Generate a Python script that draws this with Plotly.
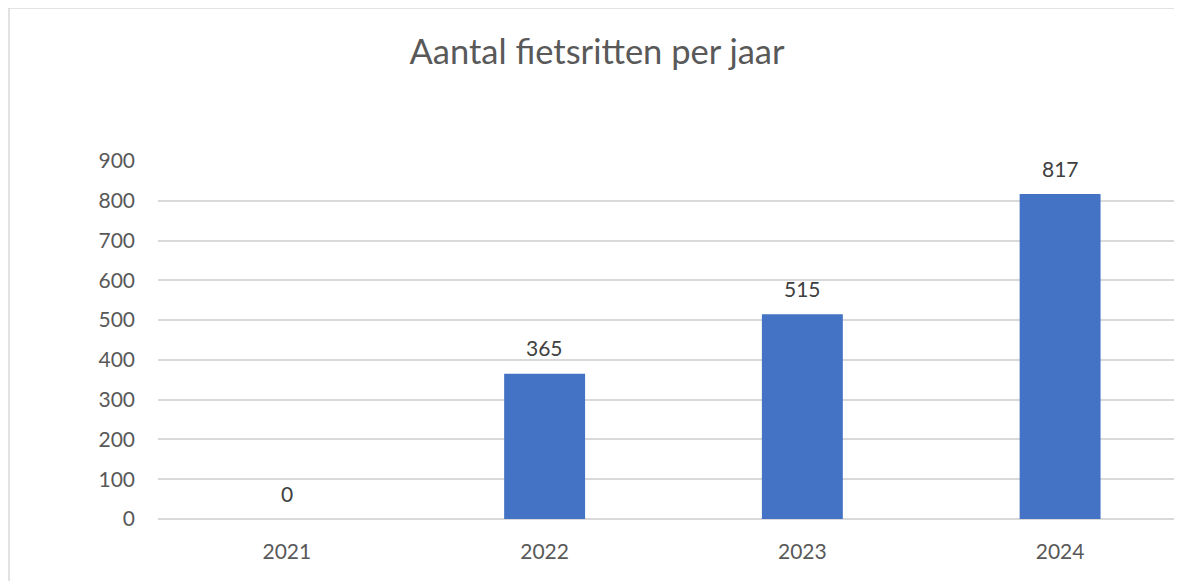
import plotly.graph_objects as go

# chart data
years = ['2021', '2022', '2023', '2024']
rides = [0, 365, 515, 817]
y_ticks = [0, 100, 200, 300, 400, 500, 600, 700, 800, 900]

TEXT = '#595959'
GRID = '#D9D9D9'
FONT = 'Lato, Open Sans, sans-serif'

# page body has an 8px margin, so everything is placed 8px up/left
OFF = 8
PLOT_W = 1182 - (158 - OFF)

fig = go.Figure()
fig.add_trace(
    go.Bar(
        x=years,
        y=rides,
        width=0.314,
        marker=dict(color='#4472C4', line=dict(width=0)),
        hoverinfo='x+y',
    )
)

# data labels above the bars (x given as category index)
for i, val in enumerate(rides):
    fig.add_annotation(
        x=i, y=val, text=str(val), showarrow=False,
        yshift=26, font=dict(size=21, color='#404040', family=FONT),
    )

# outer chart border (left and top edges visible)
fig.add_shape(
    type='rect', xref='paper', yref='paper',
    x0=(1 - (158 - OFF)) / PLOT_W, x1=1.2, y0=-1, y1=1.4274,
    line=dict(color=GRID, width=1.5), layer='below',
)

fig.update_layout(
    width=1182,
    height=581,
    margin=dict(l=158 - OFF, r=0, t=161 - OFF, b=62 + OFF),
    paper_bgcolor='white',
    plot_bgcolor='white',
    showlegend=False,
    font=dict(family=FONT, color=TEXT, size=21),
    title=dict(
        text='Aantal fietsritten per jaar',
        x=(597 - OFF) / 1182, xanchor='center', xref='container',
        y=1 - (52 - OFF) / 581, yanchor='middle', yref='container',
        font=dict(size=34.5, color=TEXT, family=FONT),
    ),
    xaxis=dict(
        type='category',
        range=[-0.5, 3.504],
        showgrid=False,
        showline=False,
        ticks='',
        ticklabelstandoff=18,
        tickfont=dict(size=21, color=TEXT),
    ),
    yaxis=dict(
        range=[0, 900],
        tickvals=y_ticks,
        showgrid=True,
        gridcolor=GRID,
        gridwidth=1.5,
        zeroline=True,
        zerolinecolor=GRID,
        zerolinewidth=1.5,
        showline=False,
        ticks='',
        ticklabelstandoff=22,
        tickfont=dict(size=21, color=TEXT),
    ),
)

fig.write_html('out.html')
